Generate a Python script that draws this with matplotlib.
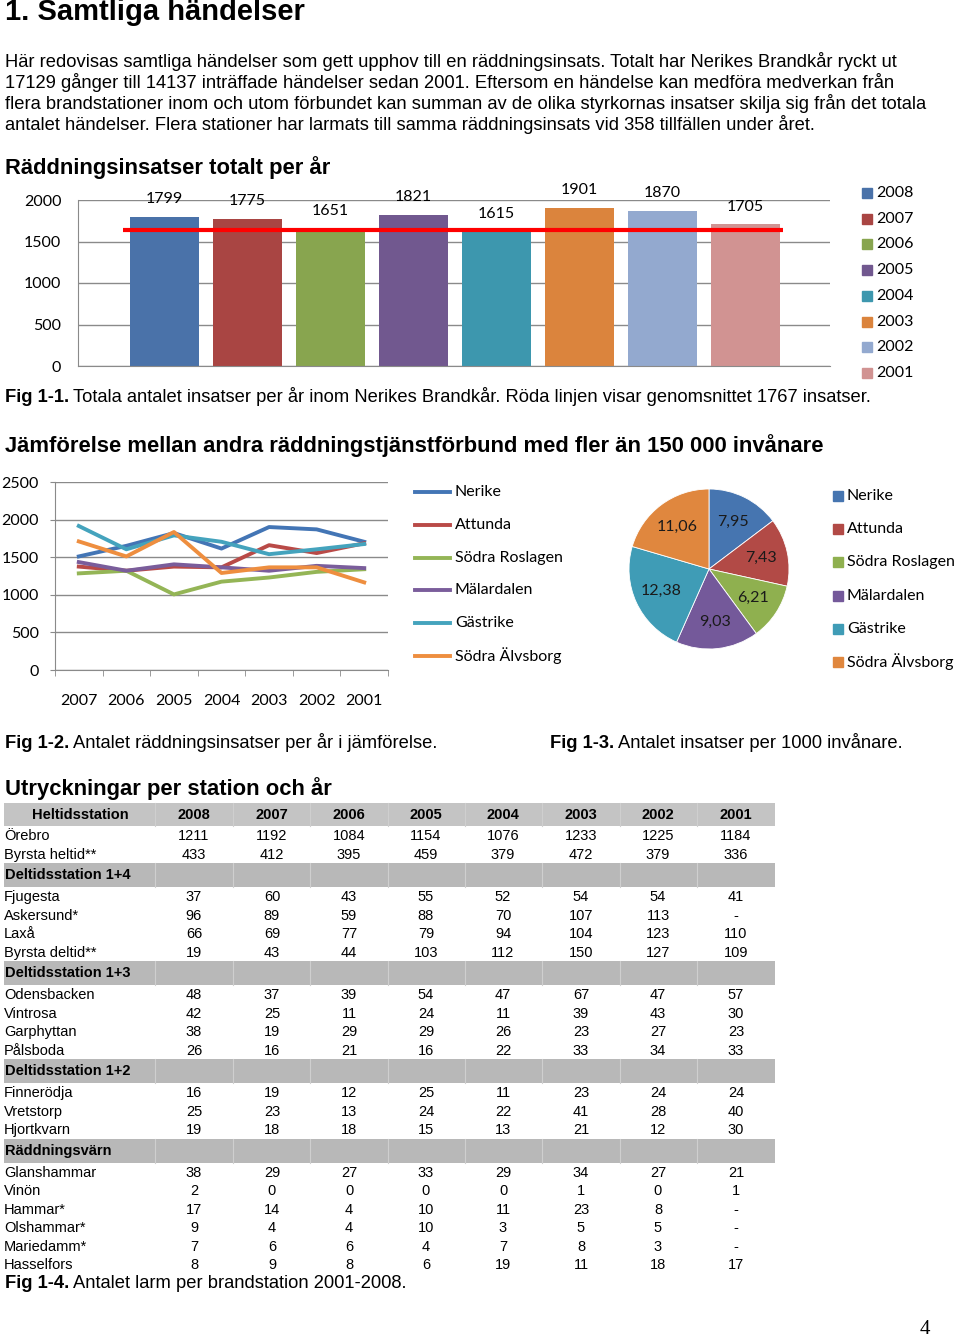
import matplotlib
matplotlib.use("Agg")
import matplotlib.pyplot as plt
from matplotlib.patches import Rectangle
from matplotlib import font_manager

W, H = 960, 1341

# Fig 1-1: insatser per år
bar_years = ["2008", "2007", "2006", "2005", "2004", "2003", "2002", "2001"]
bar_values = [1799, 1775, 1651, 1821, 1615, 1901, 1870, 1705]
bar_colors = ["#4a72a9", "#a94543", "#88a54f", "#71588f", "#3d97ae", "#db843d", "#93a9cf", "#d19392"]
avg_line = 1640

# Fig 1-2: jämförelse mellan förbund
line_years = ["2007", "2006", "2005", "2004", "2003", "2002", "2001"]
forbund = ["Nerike", "Attunda", "Södra Roslagen", "Mälardalen", "Gästrike", "Södra Älvsborg"]
nerike = [1510, 1651, 1821, 1615, 1901, 1870, 1705]
attunda = [1375, 1320, 1375, 1365, 1660, 1555, 1685]
sodra_roslagen = [1285, 1320, 1005, 1175, 1230, 1305, 1340]
malardalen = [1435, 1320, 1405, 1365, 1320, 1385, 1355]
gastrike = [1915, 1605, 1790, 1705, 1540, 1605, 1675]
sodra_alvsborg = [1710, 1510, 1835, 1290, 1365, 1365, 1165]
line_colors = ["#4375b5", "#b94a47", "#94b556", "#7a5d9b", "#44a3bd", "#ee8e3f"]

# Fig 1-3: insatser per 1000 invånare
per_1000 = [7.95, 7.43, 6.21, 9.03, 12.38, 11.06]
pie_colors = ["#4675b0", "#b24a46", "#8fb04f", "#74599a", "#3f9cb6", "#e0873e"]

# Fig 1-4: larm per brandstation
table_years = ["2008", "2007", "2006", "2005", "2004", "2003", "2002", "2001"]
heltid = [
    ("Örebro", [1211, 1192, 1084, 1154, 1076, 1233, 1225, 1184]),
    ("Byrsta heltid**", [433, 412, 395, 459, 379, 472, 379, 336]),
]
deltid_14 = [
    ("Fjugesta", [37, 60, 43, 55, 52, 54, 54, 41]),
    ("Askersund*", [96, 89, 59, 88, 70, 107, 113, "-"]),
    ("Laxå", [66, 69, 77, 79, 94, 104, 123, 110]),
    ("Byrsta deltid**", [19, 43, 44, 103, 112, 150, 127, 109]),
]
deltid_13 = [
    ("Odensbacken", [48, 37, 39, 54, 47, 67, 47, 57]),
    ("Vintrosa", [42, 25, 11, 24, 11, 39, 43, 30]),
    ("Garphyttan", [38, 19, 29, 29, 26, 23, 27, 23]),
    ("Pålsboda", [26, 16, 21, 16, 22, 33, 34, 33]),
]
deltid_12 = [
    ("Finnerödja", [16, 19, 12, 25, 11, 23, 24, 24]),
    ("Vretstorp", [25, 23, 13, 24, 22, 41, 28, 40]),
    ("Hjortkvarn", [19, 18, 18, 15, 13, 21, 12, 30]),
]
raddningsvarn = [
    ("Glanshammar", [38, 29, 27, 33, 29, 34, 27, 21]),
    ("Vinön", [2, 0, 0, 0, 0, 1, 0, 1]),
    ("Hammar*", [17, 14, 4, 10, 11, 23, 8, "-"]),
    ("Olshammar*", [9, 4, 4, 10, 3, 5, 5, "-"]),
    ("Mariedamm*", [7, 6, 6, 4, 7, 8, 3, "-"]),
    ("Hasselfors", [8, 9, 8, 6, 19, 11, 18, 17]),
]

body_lines = [
    "Här redovisas samtliga händelser som gett upphov till en räddningsinsats. Totalt har Nerikes Brandkår ryckt ut",
    "17129 gånger till 14137 inträffade händelser sedan 2001. Eftersom en händelse kan medföra medverkan från",
    "flera brandstationer inom och utom förbundet kan summan av de olika styrkornas insatser skilja sig från det totala",
    "antalet händelser. Flera stationer har larmats till samma räddningsinsats vid 358 tillfällen under året.",
]

installed = {f.name for f in font_manager.fontManager.ttflist}
SANS = "Liberation Sans"
NARROW = "Liberation Sans Narrow" if "Liberation Sans Narrow" in installed else SANS
CHART = "Lato"
GRID = "#8a8a8a"
BODY = 13.2
HEAD = 15.8


def box(left, top, right, bottom):
    return [left / W, 1 - bottom / H, (right - left) / W, (bottom - top) / H]


fig = plt.figure(figsize=(W / 100, H / 100), dpi=100)
page = fig.add_axes([0, 0, 1, 1])
page.set_xlim(0, W)
page.set_ylim(H, 0)
page.axis("off")


def caption(x, y, bold, rest, size, family=SANS):
    t = page.text(x, y, bold, fontsize=size, family=family, weight="bold", va="center")
    page.annotate(rest, xy=(1, 0), xycoords=t, xytext=(3, 0), textcoords="offset points",
                  fontsize=size, family=family, va="bottom", ha="left")


# page text
page.text(5, 12, "1. Samtliga händelser", fontsize=21, family=SANS, weight="bold", va="center")
for i, line in enumerate(body_lines):
    page.text(5, 61 + 21 * i, line, fontsize=BODY, family=SANS, va="center")
page.text(5, 168, "Räddningsinsatser totalt per år", fontsize=HEAD, family=SANS, weight="bold", va="center")
caption(5, 397, "Fig 1-1.", "Totala antalet insatser per år inom Nerikes Brandkår. Röda linjen visar genomsnittet 1767 insatser.",
        BODY, NARROW)
page.text(5, 446, "Jämförelse mellan andra räddningstjänstförbund med fler än 150 000 invånare",
          fontsize=HEAD, family=NARROW, weight="bold", va="center")
caption(5, 743, "Fig 1-2.", "Antalet räddningsinsatser per år i jämförelse.", BODY)
caption(550, 743, "Fig 1-3.", "Antalet insatser per 1000 invånare.", BODY)
page.text(5, 789, "Utryckningar per station och år", fontsize=HEAD, family=SANS, weight="bold", va="center")
caption(5, 1284, "Fig 1-4.", "Antalet larm per brandstation 2001-2008.", BODY)
page.text(925, 1330, "4", fontsize=15, family="Liberation Serif", ha="center", va="center")

# Fig 1-1 bar chart
ax1 = fig.add_axes(box(78, 200, 830, 366))
ax1.set_facecolor("none")
xs = range(len(bar_values))
ax1.bar(xs, bar_values, width=0.83, color=bar_colors, zorder=2)
ax1.hlines(avg_line, -0.5, 7.45, color="#ff0000", linewidth=3, zorder=3)
for i, v in enumerate(bar_values):
    ax1.text(i, v + 215, str(v), ha="center", va="center", fontsize=11.5, family=CHART, clip_on=False)
ax1.set_xlim(-1.04, 8.02)
ax1.set_ylim(0, 2000)
ax1.set_yticks(range(0, 2001, 500))
ax1.set_xticks([])
ax1.grid(axis="y", color=GRID, linewidth=1, zorder=0)
for s in ["top", "right"]:
    ax1.spines[s].set_visible(False)
for s in ["left", "bottom"]:
    ax1.spines[s].set_color(GRID)
ax1.tick_params(axis="y", length=0, pad=12, labelsize=11.5)
for t in ax1.get_yticklabels():
    t.set_family(CHART)

for i, (year, color) in enumerate(zip(bar_years, bar_colors)):
    y = 193 + 25.7 * i
    page.add_patch(Rectangle((862, y - 5), 10, 10, color=color))
    page.text(876, y, year, fontsize=11.5, family=CHART, va="center")

# Fig 1-2 line chart
ax2 = fig.add_axes(box(55, 482, 388, 670))
ax2.set_facecolor("none")
series = [nerike, attunda, sodra_roslagen, malardalen, gastrike, sodra_alvsborg]
for name, vals, color in zip(forbund, series, line_colors):
    ax2.plot(range(len(line_years)), vals, color=color, linewidth=2.8, label=name, zorder=3)
ax2.set_xlim(-0.5, len(line_years) - 0.5)
ax2.set_ylim(0, 2500)
ax2.set_yticks(range(0, 2501, 500))
ax2.set_xticks(range(len(line_years)))
ax2.set_xticklabels(line_years)
ax2.set_xticks([i - 0.5 for i in range(len(line_years) + 1)], minor=True)
ax2.grid(axis="y", color=GRID, linewidth=1, zorder=0)
for s in ["top", "right"]:
    ax2.spines[s].set_visible(False)
for s in ["left", "bottom"]:
    ax2.spines[s].set_color(GRID)
ax2.tick_params(axis="x", which="major", length=0, pad=17, labelsize=11.5)
ax2.tick_params(axis="x", which="minor", length=4.5, color=GRID)
ax2.tick_params(axis="y", length=3.6, color=GRID, pad=8, labelsize=11.5)
for t in ax2.get_xticklabels() + ax2.get_yticklabels():
    t.set_family(CHART)

for i, (name, color) in enumerate(zip(forbund, line_colors)):
    y = 492 + 32.8 * i
    page.plot([415, 450], [y, y], color=color, linewidth=2.8)
    page.text(455, y, name, fontsize=11.5, family=CHART, va="center")

# Fig 1-3 pie chart
ax3 = fig.add_axes(box(629, 489, 789, 649))
labels = [f"{v:.2f}".replace(".", ",") for v in per_1000]
wedges, texts = ax3.pie(per_1000, colors=pie_colors, startangle=90, counterclock=False,
                        labels=labels, labeldistance=0.66,
                        wedgeprops=dict(edgecolor="white", linewidth=0.6),
                        textprops=dict(fontsize=11.5, family=CHART, color="#1a1a1a"))
for t in texts:
    t.set_ha("center")
    t.set_va("center")
ax3.set_xlim(-1, 1)
ax3.set_ylim(-1, 1)

for i, (name, color) in enumerate(zip(forbund, pie_colors)):
    y = 496 + 33.2 * i
    page.add_patch(Rectangle((833, y - 5), 10, 10, color=color))
    page.text(847, y, name, fontsize=11.5, family=CHART, va="center")

# Fig 1-4 table
col_x = [194, 272, 349, 426, 503, 581, 658, 736]
col_edges = [155, 233, 310, 388, 465, 542, 620, 697]
TSIZE = 10.5
HEAD_GRAY = "#c4c4c4"
SEC_GRAY = "#b8b8b8"


def gray_row(top, height, color):
    page.add_patch(Rectangle((4, top), 771, height, color=color, lw=0))
    for e in col_edges:
        page.plot([e, e], [top, top + height], color="#cfcfcf", linewidth=0.8)


gray_row(803, 23, HEAD_GRAY)
page.text(80, 814.5, "Heltidsstation", fontsize=TSIZE, family=SANS, weight="bold", ha="center", va="center")
for x, yr in zip(col_x, table_years):
    page.text(x, 814.5, yr, fontsize=TSIZE, family=SANS, weight="bold", ha="center", va="center")

sections = [
    (None, heltid),
    ("Deltidsstation 1+4", deltid_14),
    ("Deltidsstation 1+3", deltid_13),
    ("Deltidsstation 1+2", deltid_12),
    ("Räddningsvärn", raddningsvarn),
]
y = 826
for title, rows in sections:
    if title:
        gray_row(y, 24, SEC_GRAY)
        page.text(5, y + 12, title, fontsize=TSIZE, family=SANS, weight="bold", va="center")
        y += 24
    for name, vals in rows:
        cy = y + 10.3
        page.text(4, cy, name, fontsize=TSIZE, family=SANS, va="center")
        for x, v in zip(col_x, vals):
            page.text(x, cy, str(v), fontsize=TSIZE, family=SANS, ha="center", va="center")
        y += 18.5

fig.savefig("out.png", dpi=100, facecolor="white")
